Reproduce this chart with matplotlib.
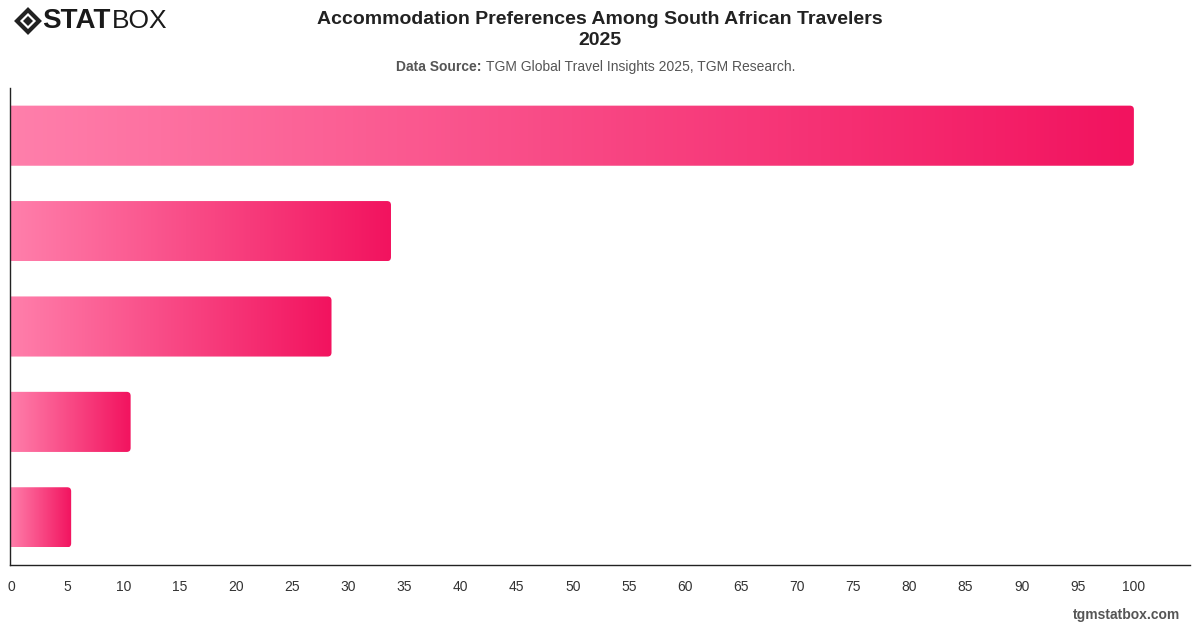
import numpy as np
import matplotlib.pyplot as plt
from matplotlib.patches import FancyBboxPatch, Polygon
from matplotlib.colors import LinearSegmentedColormap

# data (category names are not shown in the chart)
categories = ["Category 1", "Category 2", "Category 3", "Category 4", "Category 5"]
values = [100, 33.8, 28.5, 10.6, 5.3]
x_ticks = list(range(0, 101, 5))

title = "Accommodation Preferences Among South African Travelers\n2025"
source_label = "Data Source:"
source_text = "TGM Global Travel Insights 2025, TGM Research."

plt.rcParams['font.family'] = ['Liberation Sans', 'DejaVu Sans']

fig = plt.figure(figsize=(12, 6.28), dpi=100)
ax = fig.add_axes([10 / 1200, 63 / 628, 1180 / 1200, 477 / 628])

cmap = LinearSegmentedColormap.from_list("pink", ["#ff7fab", "#f2135f"])
grad = np.linspace(0, 1, 256).reshape(1, -1)

bar_h = 0.63
xmin, xmax = -0.15, 105.0

# pixel scales for rounded corners
px_x = 1180 / (xmax - xmin)
px_y = 477 / len(values)
r_px = 4
for i, v in enumerate(values):
    im = ax.imshow(grad, cmap=cmap, aspect='auto', interpolation='bicubic',
                   extent=(xmin, v, i + bar_h / 2, i - bar_h / 2), zorder=2)
    patch = FancyBboxPatch((xmin - 1, i - bar_h / 2), v - xmin + 1, bar_h,
                           boxstyle=f"round,pad=0,rounding_size={r_px / px_x}",
                           mutation_aspect=px_x / px_y,
                           facecolor='none', edgecolor='none',
                           transform=ax.transData)
    ax.add_patch(patch)
    im.set_clip_path(patch)

ax.set_xlim(xmin, xmax)
ax.set_ylim(len(values) - 0.5, -0.5)
ax.set_xticks(x_ticks)
ax.set_yticks([])
ax.tick_params(axis='x', length=0, pad=11, labelsize=10, labelcolor='#333333')
for s in ['top', 'right']:
    ax.spines[s].set_visible(False)
for s in ['left', 'bottom']:
    ax.spines[s].set_color('#222222')
    ax.spines[s].set_linewidth(1)

# title and source
fig.text(0.5, 1 - 30 / 628, title, ha='center', va='center', fontsize=14,
         fontweight='bold', color='#222222', linespacing=1.25)
lab = fig.text(396 / 1200, 1 - 67 / 628, source_label, ha='left', va='center',
               fontsize=10, fontweight='bold', color='#555555')
fig.canvas.draw()
bb = lab.get_window_extent()
fig.text((bb.x1 + 4) / 1200, 1 - 67 / 628, source_text, ha='left', va='center',
         fontsize=10, color='#555555')

# logo
fig.patches.append(Polygon([(17 / 1200, 1 - 21 / 628), (28 / 1200, 1 - 10 / 628),
                            (39 / 1200, 1 - 21 / 628), (28 / 1200, 1 - 32 / 628)],
                           closed=True, transform=fig.transFigure,
                           facecolor='none', edgecolor='#222222', linewidth=3))
fig.patches.append(Polygon([(23 / 1200, 1 - 21 / 628), (28 / 1200, 1 - 16 / 628),
                            (33 / 1200, 1 - 21 / 628), (28 / 1200, 1 - 26 / 628)],
                           closed=True, transform=fig.transFigure,
                           facecolor='#222222', edgecolor='none'))
stat = fig.text(42 / 1200, 1 - 21 / 628, "STAT", ha='left', va='center', fontsize=20,
                fontweight='heavy', color='#1a1a1a')
fig.canvas.draw()
sb = stat.get_window_extent()
fig.text((sb.x1 + 1) / 1200, 1 - 21 / 628, "BOX", ha='left', va='center', fontsize=19,
         fontweight='light', color='#1a1a1a')

fig.text(1180 / 1200, 1 - 615 / 628, "tgmstatbox.com", ha='right', va='center',
         fontsize=10, fontweight='bold', color='#555555')

fig.savefig("out.png", dpi=100)
